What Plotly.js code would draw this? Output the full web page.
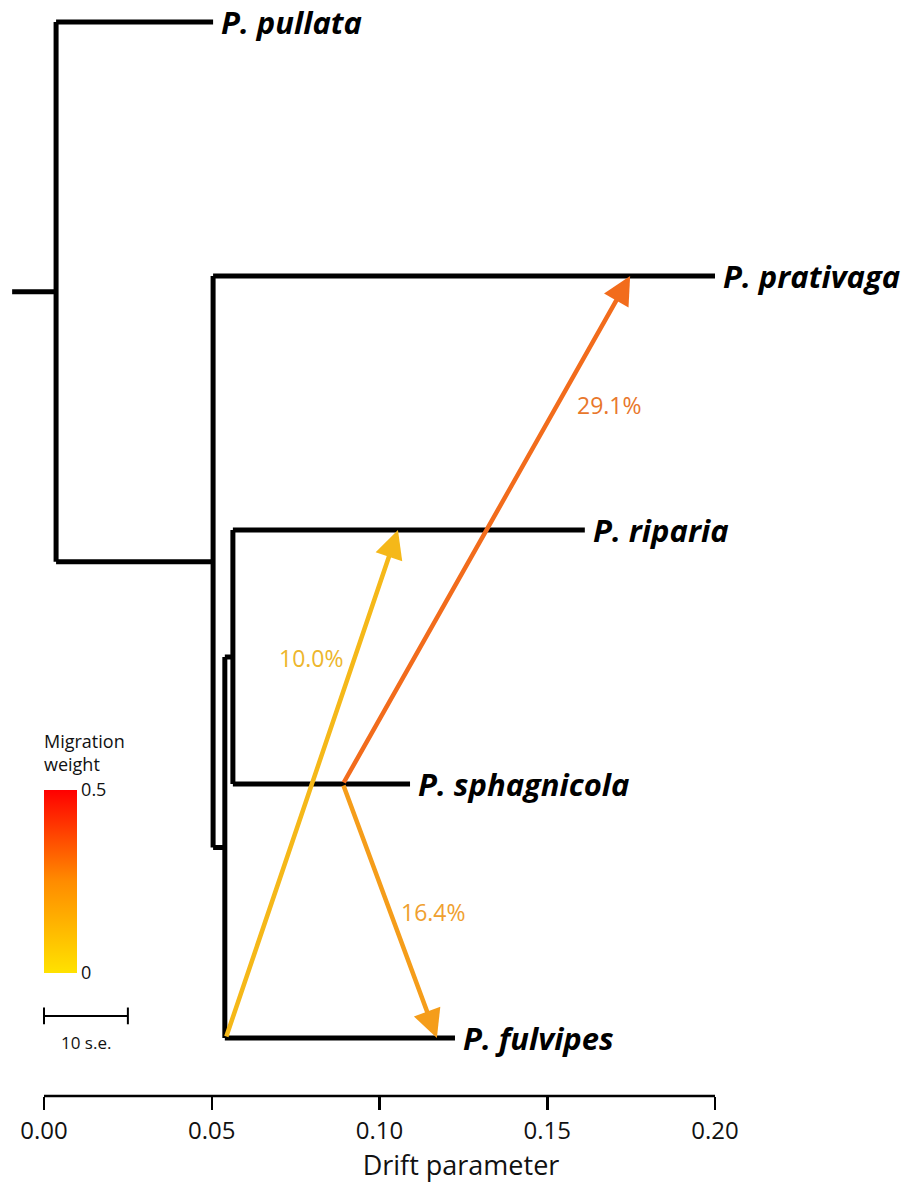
<!DOCTYPE html>
<html>
<head>
<meta charset="utf-8">
<script src="https://cdn.plot.ly/plotly-3.0.1.min.js"></script>
<style>html,body{margin:0;padding:0;background:#fff;}#chart{width:922px;height:1191px;}</style>
</head>
<body>
<div id="chart"></div>
<script>
// ---- Data (drift parameter on x, leaf order index on y) ----
const leafNames  = ['P. pullata', 'P. prativaga', 'P. riparia', 'P. sphagnicola', 'P. fulvipes'];
const leafY      = [5, 4, 3, 2, 1];
const leafTipX   = [0.0504, 0.2000, 0.1612, 0.1091, 0.1225];
const leafBaseX  = [0.0036, 0.0504, 0.0563, 0.0563, 0.0539];

// internal nodes: x position, y position, vertical span, parent x
const nodeX       = [0.0036, 0.0504, 0.0539, 0.0563];
const nodeY       = [3.9375, 2.875, 1.75, 2.5];
const nodeTop     = [5, 4, 2.5, 3];
const nodeBottom  = [2.875, 1.75, 1, 2];
const nodeParentX = [-0.0095, 0.0036, 0.0504, 0.0539];

// migration edges
const migFromX  = [0.0542, 0.0891, 0.0891];
const migFromY  = [1, 2, 2];
const migToX    = [0.1055, 0.1747, 0.1171];
const migToY    = [3, 4, 1];
const migLabels = ['10.0%', '29.1%', '16.4%'];
const migLabX   = [0.0796, 0.1687, 0.1162];
const migLabY   = [2.496, 3.492, 1.496];
const migColors = ['#F5B819', '#F26C1C', '#F59D1A'];
const migTextColors = ['#EDB62C', '#E8772B', '#EFA02F'];

// colour scale legend
const weightTicks = [0, 0.5];
const weightTickText = ['0', '0.5'];

// axis ticks
const xTickVals = [0, 0.05, 0.10, 0.15, 0.20];
const xTickText = ['0.00', '0.05', '0.10', '0.15', '0.20'];

// scale bar (10 s.e.)
const seBarX = [0, 0.025];
const seBarY = 1.087;

// ---- Build tree segments ----
const tx = [], ty = [];
for (let i = 0; i < leafNames.length; i++) {
  tx.push(leafBaseX[i], leafTipX[i], null);
  ty.push(leafY[i], leafY[i], null);
}
for (let i = 0; i < nodeX.length; i++) {
  tx.push(nodeX[i], nodeX[i], null);
  ty.push(nodeTop[i], nodeBottom[i], null);
  tx.push(nodeParentX[i], nodeX[i], null);
  ty.push(nodeY[i], nodeY[i], null);
}

const FONT = 'Open Sans, Noto Sans, sans-serif';
const traces = [
  {x: tx, y: ty, mode: 'lines', type: 'scatter', hoverinfo: 'skip',
   line: {color: '#000', width: 5}, showlegend: false},
  // scale bar
  {x: [seBarX[0], seBarX[1], null, seBarX[0], seBarX[0], null, seBarX[1], seBarX[1]],
   y: [seBarY, seBarY, null, seBarY - 0.033, seBarY + 0.033, null, seBarY - 0.033, seBarY + 0.033],
   mode: 'lines', type: 'scatter', hoverinfo: 'skip', line: {color: '#000', width: 2}, showlegend: false},
  // colorbar carrier
  {x: [null], y: [null], mode: 'markers', type: 'scatter', hoverinfo: 'skip', showlegend: false,
   marker: {color: weightTicks, cmin: 0, cmax: 0.5,
     colorscale: [[0, '#FFE200'], [0.5, '#FF8C00'], [1, '#FF0000']],
     showscale: true,
     colorbar: {x: 44/922, xanchor: 'left', y: (1096 - 881.5)/1096, yanchor: 'middle',
       thickness: 33, thicknessmode: 'pixels', len: 183, lenmode: 'pixels',
       outlinewidth: 0, xpad: 0, ypad: 0, ticks: '', tickvals: weightTicks, ticktext: weightTickText,
       tickfont: {family: FONT, size: 18, color: '#111'}}}}
];

const annotations = [];
for (let i = 0; i < leafNames.length; i++) {
  annotations.push({x: leafTipX[i], y: leafY[i], xref: 'x', yref: 'y', text: '<b><i>' + leafNames[i] + '</i></b>',
    showarrow: false, xanchor: 'left', yanchor: 'middle', xshift: 6,
    font: {family: FONT, size: 31, color: '#000'}});
}
for (let i = 0; i < migFromX.length; i++) {
  annotations.push({x: migToX[i], y: migToY[i], ax: migFromX[i], ay: migFromY[i],
    xref: 'x', yref: 'y', axref: 'x', ayref: 'y', text: '', showarrow: true,
    arrowhead: 2, arrowsize: 1.25, arrowwidth: 4.5, arrowcolor: migColors[i], standoff: 0});
  annotations.push({x: migLabX[i], y: migLabY[i], xref: 'x', yref: 'y', text: migLabels[i],
    showarrow: false, font: {family: FONT, size: 23, color: migTextColors[i]}});
}
annotations.push({x: 42/922, y: (1096 - 752)/1096, xref: 'paper', yref: 'paper', text: 'Migration<br>weight',
  showarrow: false, xanchor: 'left', yanchor: 'middle', align: 'left',
  font: {family: FONT, size: 18, color: '#111'}});
annotations.push({x: (seBarX[0] + seBarX[1]) / 2, y: 0.984, xref: 'x', yref: 'y', text: '10 s.e.',
  showarrow: false, font: {family: FONT, size: 17, color: '#111'}});

const layout = {
  width: 922, height: 1191,
  margin: {l: 0, r: 0, t: 0, b: 95},
  paper_bgcolor: '#fff', plot_bgcolor: '#fff',
  showlegend: false,
  xaxis: {range: [-44/3355, 878/3355], tickvals: xTickVals, ticktext: xTickText,
    ticks: 'outside', ticklen: 13, tickwidth: 2.5, tickcolor: '#000',
    showline: false, zeroline: false, showgrid: false,
    tickfont: {family: FONT, size: 24, color: '#111'},
    title: {text: 'Drift parameter', font: {family: FONT, size: 27, color: '#111'}, standoff: 10}},
  yaxis: {range: [1 - 58/254, 1 + 1038/254], visible: false, showgrid: false, zeroline: false},
  shapes: [{type: 'line', xref: 'x', yref: 'paper', x0: xTickVals[0], x1: xTickVals[xTickVals.length - 1],
    y0: 0, y1: 0, line: {color: '#000', width: 2.5}}],
  annotations: annotations
};

Plotly.newPlot('chart', traces, layout, {staticPlot: true, displayModeBar: false});
</script>
</body>
</html>
